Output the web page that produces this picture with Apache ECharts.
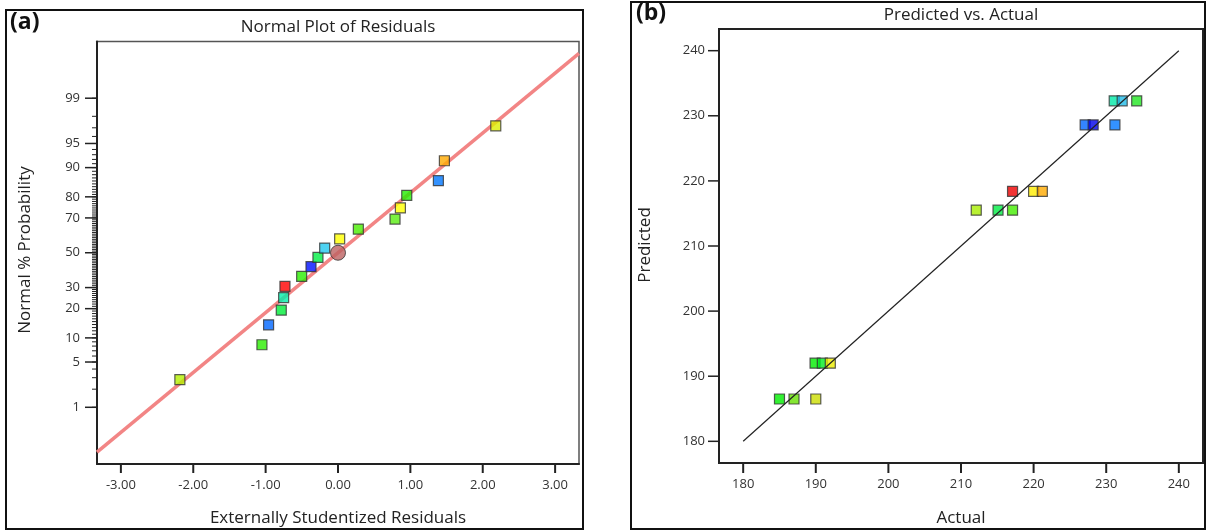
<!DOCTYPE html>
<html>
<head>
<meta charset="utf-8">
<script src="https://cdn.jsdelivr.net/npm/echarts@6/dist/echarts.min.js"></script>
<style>
  html, body { margin: 0; padding: 0; background: #fff; }
  #main { width: 1206px; height: 531px; }
</style>
</head>
<body>
<div id="main"></div>
<script>
// (a) normal plot: residuals and their % probability
var residX = [-2.185, -1.051, -0.959, -0.784, -0.751, -0.733, -0.502, -0.373, -0.277,
              -0.184, 0.023, 0.281, 0.788, 0.862, 0.95, 1.387, 1.47, 2.18];
var residP = [2.8, 8.3, 13.9, 19.4, 25.0, 30.6, 36.1, 41.7, 47.2,
              52.8, 58.3, 63.9, 69.4, 75.0, 80.6, 86.1, 91.7, 97.2];
var residColors = ['#b4f000', '#2aee00', '#0066ff', '#00ee3a', '#00eeaa', '#ff0000', '#2aee00', '#0010ff', '#00ee44',
                   '#22c8f0', '#ffff00', '#48ee00', '#5aee10', '#ffff00', '#22ee00', '#0077ff', '#ffaa00', '#dcee00'];
var centerPoint = [0, 50];
var fitLine = [[-3.33, -3.0], [3.33, 3.0]];   // x, z
var probTicks = [1, 5, 10, 20, 30, 50, 70, 80, 90, 95, 99];
var residTicks = [-3, -2, -1, 0, 1, 2, 3];

// (b) predicted vs actual
var actual    = [231.1, 232.2, 234.2, 227.1, 228.2, 231.2, 217.1, 220.0, 221.2,
                 212.1, 215.1, 217.1, 189.9, 190.9, 192.0, 185.0, 187.0, 190.0];
var predicted = [232.3, 232.3, 232.3, 228.6, 228.6, 228.6, 218.4, 218.4, 218.4,
                 215.5, 215.5, 215.5, 192.0, 192.0, 192.0, 186.5, 186.5, 186.5];
var pvaColors = ['#00eaa8', '#20bce8', '#22e622', '#0066ff', '#0000ee', '#0077ff', '#ee0000', '#ffee00', '#ffaa00',
                 '#a8ee00', '#00ee44', '#44ee00', '#00ee00', '#00ee22', '#eeee00', '#00ee00', '#66e000', '#ccdd00'];
var diagLine = [[180, 180], [240, 240]];
var pvaTicks = [180, 190, 200, 210, 220, 230, 240];

var A_X = [-3.33, 3.33], A_Z = [-3.18, 3.18], B_R = [176.67, 243.33];

// inverse normal cdf (Acklam) for the probability axis
function normInv(p) {
  var a = [-39.69683028665376, 220.9460984245205, -275.9285104469687, 138.3577518672690, -30.66479806614716, 2.506628277459239];
  var b = [-54.47609879822406, 161.5858368580409, -155.6989798598866, 66.80131188771972, -13.28068155288572];
  var c = [-0.007784894002430293, -0.3223964580411365, -2.400758277161838, -2.549732539343734, 4.374664141464968, 2.938163982698783];
  var d = [0.007784695709041462, 0.3224671290700398, 2.445134137142996, 3.754408661907416];
  var pl = 0.02425, q, r;
  if (p < pl) {
    q = Math.sqrt(-2 * Math.log(p));
    return (((((c[0]*q+c[1])*q+c[2])*q+c[3])*q+c[4])*q+c[5]) / ((((d[0]*q+d[1])*q+d[2])*q+d[3])*q+1);
  } else if (p <= 1 - pl) {
    q = p - 0.5; r = q * q;
    return (((((a[0]*r+a[1])*r+a[2])*r+a[3])*r+a[4])*r+a[5])*q / (((((b[0]*r+b[1])*r+b[2])*r+b[3])*r+b[4])*r+1);
  }
  q = Math.sqrt(-2 * Math.log(1 - p));
  return -(((((c[0]*q+c[1])*q+c[2])*q+c[3])*q+c[4])*q+c[5]) / ((((d[0]*q+d[1])*q+d[2])*q+d[3])*q+1);
}
function z(pct) { return normInv(pct / 100); }

var majorZ = probTicks.map(z);
var minorZ = [];
for (var i = 1; i <= 99; i++) minorZ.push(z(i));

var residData = residX.map(function (x, k) {
  return { value: [x, z(residP[k])], itemStyle: { color: residColors[k] } };
});
var pvaData = actual.map(function (x, k) {
  return { value: [x, predicted[k]], itemStyle: { color: pvaColors[k] } };
});

var FONT = '"Open Sans", "Noto Sans", sans-serif';
var labelStyle = { color: '#333', fontSize: 13, fontFamily: FONT };

function probLabel(v) {
  var best = probTicks[0], bd = 1e9;
  for (var k = 0; k < majorZ.length; k++) {
    var dd = Math.abs(majorZ[k] - v);
    if (dd < bd) { bd = dd; best = probTicks[k]; }
  }
  return String(best);
}

// axis: line + labels (ticks drawn by tick series below)
function mkAxis(base, values, margin, fmt) {
  return Object.assign({
    type: 'value', splitLine: { show: false },
    axisLine: { onZero: false, lineStyle: { color: '#222', width: 2 } },
    axisTick: { show: false },
    axisLabel: Object.assign({ customValues: values, margin: margin, formatter: fmt }, labelStyle)
  }, base);
}

// tick marks as a custom series, positioned with the axis scale
function tickSeries(xi, yi, values, dir, len, width) {
  return {
    type: 'custom', xAxisIndex: xi, yAxisIndex: yi, clip: false, silent: true, z: 5,
    data: values.map(function (v) { return [v]; }),
    renderItem: function (params, api) {
      var cs = params.coordSys, v = api.value(0), p, shape;
      if (dir === 'y') {
        p = api.coord([xi === 0 ? A_X[0] : B_R[0], v]);
        shape = { x1: cs.x - len, y1: p[1], x2: cs.x, y2: p[1] };
      } else {
        p = api.coord([v, yi === 0 ? A_Z[0] : B_R[0]]);
        shape = { x1: p[0], y1: cs.y + cs.height, x2: p[0], y2: cs.y + cs.height + len };
      }
      return { type: 'line', shape: shape, style: { stroke: '#222', lineWidth: width } };
    }
  };
}

var chart = echarts.init(document.getElementById('main'));
var option = {
  animation: false,
  backgroundColor: '#fff',
  grid: [
    { left: 97, top: 41.5, width: 482, height: 422.5, show: true, borderColor: '#555', borderWidth: 1.5 },
    { left: 719, top: 29, width: 484, height: 434, show: true, borderColor: '#222', borderWidth: 2 }
  ],
  xAxis: [
    mkAxis({ gridIndex: 0, min: A_X[0], max: A_X[1], position: 'bottom' }, residTicks, 15, function (v) { return v.toFixed(2); }),
    mkAxis({ gridIndex: 1, min: B_R[0], max: B_R[1], position: 'bottom' }, pvaTicks, 15)
  ],
  yAxis: [
    mkAxis({ gridIndex: 0, min: A_Z[0], max: A_Z[1], position: 'left' }, majorZ, 17, probLabel),
    mkAxis({ gridIndex: 1, min: B_R[0], max: B_R[1], position: 'left' }, pvaTicks, 14)
  ],
  graphic: [
    { type: 'rect', shape: { x: 6, y: 10, width: 577, height: 519 }, style: { fill: 'none', stroke: '#111', lineWidth: 2 }, z: 0 },
    { type: 'rect', shape: { x: 631, y: 2, width: 574, height: 527 }, style: { fill: 'none', stroke: '#111', lineWidth: 2 }, z: 0 },
    { type: 'text', left: 10, top: 11, style: { text: '(a)', font: 'bold 23px ' + FONT, fill: '#111' } },
    { type: 'text', left: 636, top: 2, style: { text: '(b)', font: 'bold 23px ' + FONT, fill: '#111' } },
    { type: 'text', x: 338, y: 27, style: { text: 'Normal Plot of Residuals', font: '17px ' + FONT, fill: '#222', align: 'center', verticalAlign: 'middle' } },
    { type: 'text', x: 961, y: 15, style: { text: 'Predicted vs. Actual', font: '17px ' + FONT, fill: '#222', align: 'center', verticalAlign: 'middle' } },
    { type: 'text', x: 338, y: 518, style: { text: 'Externally Studentized Residuals', font: '17px ' + FONT, fill: '#222', align: 'center', verticalAlign: 'middle' } },
    { type: 'text', x: 961, y: 518, style: { text: 'Actual', font: '17px ' + FONT, fill: '#222', align: 'center', verticalAlign: 'middle' } },
    { type: 'text', x: 25, y: 250, rotation: Math.PI / 2, style: { text: 'Normal % Probability', font: '17px ' + FONT, fill: '#222', align: 'center', verticalAlign: 'middle' } },
    { type: 'text', x: 645, y: 245, rotation: Math.PI / 2, style: { text: 'Predicted', font: '17px ' + FONT, fill: '#222', align: 'center', verticalAlign: 'middle' } }
  ],
  series: [
    tickSeries(0, 0, majorZ, 'y', 12, 1.5),
    tickSeries(0, 0, minorZ, 'y', 5, 1),
    tickSeries(0, 0, residTicks, 'x', 9, 2),
    tickSeries(1, 1, pvaTicks, 'y', 11, 1.5),
    tickSeries(1, 1, pvaTicks, 'x', 10, 2),
    {
      type: 'line', xAxisIndex: 0, yAxisIndex: 0, data: fitLine, symbol: 'none',
      lineStyle: { color: '#f28585', width: 3.5 }, z: 2
    },
    {
      type: 'scatter', xAxisIndex: 0, yAxisIndex: 0, data: residData, symbol: 'rect', symbolSize: 10,
      itemStyle: { borderColor: '#333', borderWidth: 1.2 }, z: 3
    },
    {
      type: 'scatter', xAxisIndex: 0, yAxisIndex: 0,
      data: [[centerPoint[0], z(centerPoint[1])]], symbol: 'circle', symbolSize: 15,
      itemStyle: { color: '#bd6262', borderColor: '#333', borderWidth: 1 }, z: 4
    },
    {
      type: 'line', xAxisIndex: 1, yAxisIndex: 1, data: diagLine, symbol: 'none',
      lineStyle: { color: '#222', width: 1.2 }, z: 3
    },
    {
      type: 'scatter', xAxisIndex: 1, yAxisIndex: 1, data: pvaData, symbol: 'rect', symbolSize: 10,
      itemStyle: { borderColor: '#333', borderWidth: 1.2 }, z: 2
    }
  ]
};
chart.setOption(option);
</script>
</body>
</html>
